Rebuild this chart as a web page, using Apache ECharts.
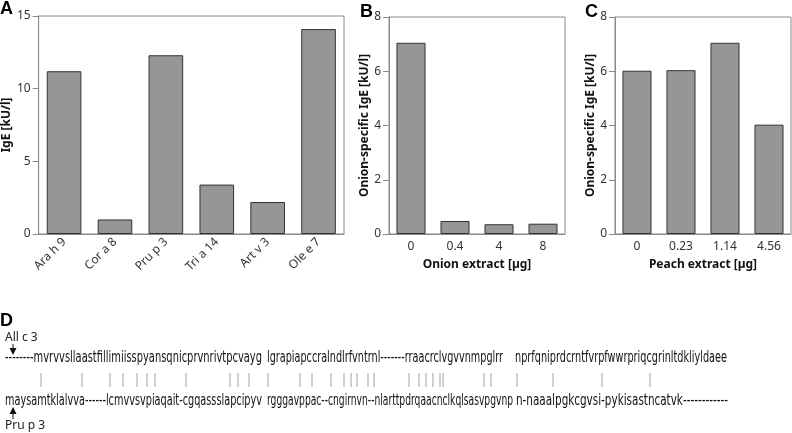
<!DOCTYPE html>
<html><head><meta charset="utf-8">
<script src="https://cdn.jsdelivr.net/npm/echarts@6/dist/echarts.min.js"></script>
<style>html,body{margin:0;padding:0;background:#fff}#c{width:792px;height:433px}</style>
</head><body><div id="c"></div>
<script>
// ---- data ----
const allergenCategories = ['Ara h 9', 'Cor a 8', 'Pru p 3', 'Tri a 14', 'Art v 3', 'Ole e 7'];
const allergenIgE = [11.2, 1.0, 12.3, 3.4, 2.2, 14.1];
const onionDoses = ['0', '0.4', '4', '8'];
const onionSpecificIgE_onion = [7.05, 0.48, 0.36, 0.38];
const peachDoses = ['0', '0.23', '1.14', '4.56'];
const onionSpecificIgE_peach = [6.02, 6.04, 7.05, 4.03];
const allc3Segments = [
  '--------mvrvvsllaastfillimiisspyansqnicprvnrivtpcvayg',
  'lgrapiapccralndlrfvntrnl-------rraacrclvgvvnmpglrr',
  'nprfqniprdcrntfvrpfwwrpriqcgrinltdkliyldaee'
];
const prup3Segments = [
  'maysamtklalvva------lcmvvsvpiaqait-cgqassslapcipyv',
  'rgggavppac--cngirnvn--nlarttpdrqaacnclkqlsasvpgvnp',
  'n-naaalpgkcgvsi-pykisastncatvk------------'
];
// positions of identity markers along the alignment
const matchPositions = [41, 82, 110, 123, 137, 147, 155, 186, 230, 238, 249, 268, 300, 312, 331, 344, 351, 357, 368, 374, 409, 419, 426, 433, 440, 443, 484, 491, 517, 553, 602, 650];

// ---- layout helpers ----
const FONT = '"Noto Sans", "Open Sans", sans-serif';
const SEQFONT = '16px "DejaVu Sans"';
const ctx = document.createElement('canvas').getContext('2d');
function fitText(text, x0, x1, y) {
  ctx.font = SEQFONT;
  const w = ctx.measureText(text).width;
  return {
    type: 'text', x: x0, y: y, scaleX: (x1 - x0) / w, silent: true,
    style: { text: text, font: SEQFONT, fill: '#111', textVerticalAlign: 'middle', verticalAlign: 'middle' }
  };
}
const topSpans = [[5, 262], [267, 503], [515, 727]];
const botSpans = [[5, 262], [267, 513], [516, 728]];

const axisGray = '#8a8a8a';
function catAxis(idx, data, extra) {
  return Object.assign({
    type: 'category', gridIndex: idx, data: data,
    axisLine: { lineStyle: { color: axisGray, width: 1 } },
    axisTick: { alignWithLabel: true, length: 6, lineStyle: { color: axisGray } },
    axisLabel: { color: '#333', fontSize: 12, fontFamily: FONT, margin: 7 },
    nameTextStyle: { fontWeight: 'bold', fontSize: 12, color: '#111', fontFamily: FONT }
  }, extra || {});
}
function valAxis(idx, max, interval, name, gap) {
  return {
    type: 'value', gridIndex: idx, min: 0, max: max, interval: interval,
    name: name, nameLocation: 'middle', nameGap: gap,
    nameTextStyle: { fontWeight: 'bold', fontSize: 12, color: '#111', fontFamily: FONT },
    axisLine: { show: true, lineStyle: { color: axisGray, width: 1 } },
    axisTick: { show: true, length: 6, lineStyle: { color: axisGray } },
    axisLabel: { color: '#333', fontSize: 12, fontFamily: FONT, margin: 8 },
    splitLine: { show: false }
  };
}
const barStyle = { color: '#969696', borderColor: '#333', borderWidth: 1 };

const chart = echarts.init(document.getElementById('c'), null, { renderer: 'canvas' });
chart.setOption({
  animation: false,
  grid: [
    { left: 36, top: 16, width: 308, height: 218, show: true, borderColor: axisGray, borderWidth: 1 },
    { left: 389, top: 17, width: 176, height: 217, show: true, borderColor: axisGray, borderWidth: 1 },
    { left: 615, top: 17, width: 176, height: 217, show: true, borderColor: axisGray, borderWidth: 1 },
    { left: 0, top: 373, width: 792, height: 14, show: false }
  ],
  xAxis: [
    catAxis(0, allergenCategories, { axisLabel: { color: '#333', fontSize: 12, fontFamily: FONT, margin: 6, rotate: 45 } }),
    catAxis(1, onionDoses, { name: 'Onion extract [µg]', nameLocation: 'middle', nameGap: 25 }),
    catAxis(2, peachDoses, { name: 'Peach extract [µg]', nameLocation: 'middle', nameGap: 25 }),
    { type: 'value', gridIndex: 3, min: 0, max: 792, show: false }
  ],
  yAxis: [
    valAxis(0, 15, 5, 'IgE [kU/l]', 20),
    valAxis(1, 8, 2, 'Onion-specific IgE [kU/l]', 18),
    valAxis(2, 8, 2, 'Onion-specific IgE [kU/l]', 18),
    { type: 'value', gridIndex: 3, min: 0, max: 1, show: false }
  ],
  series: [
    { type: 'bar', xAxisIndex: 0, yAxisIndex: 0, data: allergenIgE, barWidth: '68%', itemStyle: barStyle, silent: true },
    { type: 'bar', xAxisIndex: 1, yAxisIndex: 1, data: onionSpecificIgE_onion, barWidth: '66%', itemStyle: barStyle, silent: true },
    { type: 'bar', xAxisIndex: 2, yAxisIndex: 2, data: onionSpecificIgE_peach, barWidth: '66%', itemStyle: barStyle, silent: true },
    { type: 'scatter', xAxisIndex: 3, yAxisIndex: 3, symbol: 'rect', symbolSize: [1, 14],
      data: matchPositions.map(p => [p, 0.5]), itemStyle: { color: '#8c8c8c' }, silent: true }
  ],
  graphic: [
    { type: 'text', x: 0, y: 0, silent: true, style: { text: 'A', font: 'bold 18px "Liberation Sans"', fill: '#000' } },
    { type: 'text', x: 360, y: 3, silent: true, style: { text: 'B', font: 'bold 18px "Liberation Sans"', fill: '#000' } },
    { type: 'text', x: 585, y: 3, silent: true, style: { text: 'C', font: 'bold 18px "Liberation Sans"', fill: '#000' } },
    { type: 'text', x: 0, y: 312, silent: true, style: { text: 'D', font: 'bold 18px "Liberation Sans"', fill: '#000' } },
    { type: 'text', x: 5, y: 338, silent: true, style: { text: 'All c 3', font: '12px ' + FONT, fill: '#222', textVerticalAlign: 'middle', verticalAlign: 'middle' } },
    { type: 'line', silent: true, shape: { x1: 13, y1: 344, x2: 13, y2: 349 }, style: { stroke: '#111', lineWidth: 1 } },
    { type: 'polygon', silent: true, shape: { points: [[9.5, 348], [16.5, 348], [13, 355]] }, style: { fill: '#111' } },
    { type: 'polygon', silent: true, shape: { points: [[9.5, 414], [16.5, 414], [13, 407]] }, style: { fill: '#111' } },
    { type: 'line', silent: true, shape: { x1: 13, y1: 413, x2: 13, y2: 419 }, style: { stroke: '#111', lineWidth: 1 } },
    { type: 'text', x: 5, y: 426, silent: true, style: { text: 'Pru p 3', font: '12px ' + FONT, fill: '#222', textVerticalAlign: 'middle', verticalAlign: 'middle' } }
  ].concat(
    allc3Segments.map((s, i) => fitText(s, topSpans[i][0], topSpans[i][1], 358)),
    prup3Segments.map((s, i) => fitText(s, botSpans[i][0], botSpans[i][1], 401))
  )
});
</script></body></html>
